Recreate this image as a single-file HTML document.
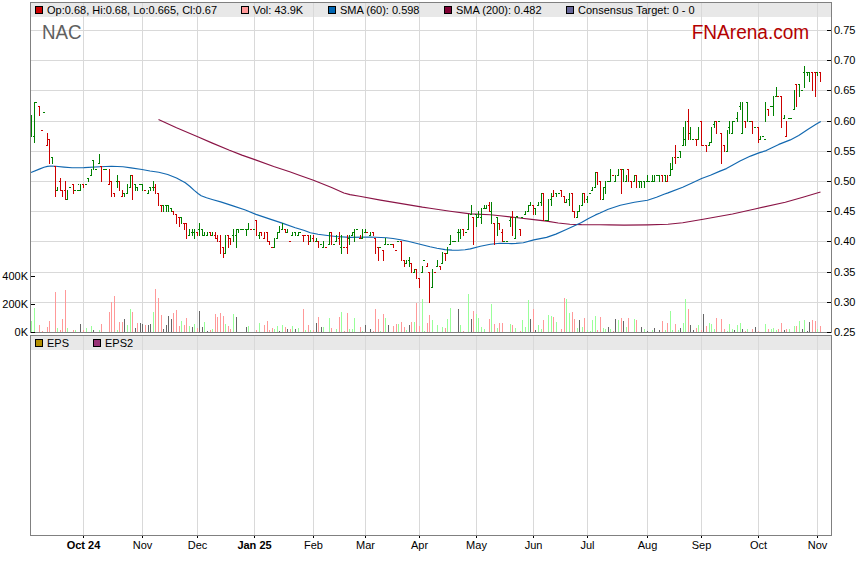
<!DOCTYPE html>
<html lang="en"><head><meta charset="utf-8"><title>NAC chart - FNArena.com</title>
<style>html,body{margin:0;padding:0;background:#fff;overflow:hidden}body{width:859px;height:566px}</style>
</head><body>
<svg width="859" height="566" viewBox="0 0 859 566" style="display:block">
<rect width="859" height="566" fill="#fff"/>
<rect x="31" y="3" width="800" height="14" fill="#e8e8e8"/>
<rect x="31" y="336" width="800" height="14" fill="#e8e8e8"/>
<path d="M83.5 3V332M83.5 336V535M142.5 3V332M142.5 336V535M197.5 3V332M197.5 336V535M254.5 3V332M254.5 336V535M313.5 3V332M313.5 336V535M365.5 3V332M365.5 336V535M419.5 3V332M419.5 336V535M476.5 3V332M476.5 336V535M533.5 3V332M533.5 336V535M587.5 3V332M587.5 336V535M647.5 3V332M647.5 336V535M701.5 3V332M701.5 336V535M758.5 3V332M758.5 336V535M817.5 3V332M817.5 336V535M31 30.5H831M31 60.5H831M31 90.5H831M31 121.5H831M31 151.5H831M31 181.5H831M31 211.5H831M31 241.5H831M31 272.5H831M31 302.5H831" stroke="#d9d9d9" stroke-width="1" fill="none" shape-rendering="crispEdges"/>
<path d="M39 325h1v7h-1zM42 331h1v1h-1zM47 327h1v5h-1zM49 321h1v11h-1zM55 292h1v40h-1zM60 330h1v2h-1zM62 319h1v13h-1zM65 290h1v42h-1zM73 330h1v2h-1zM83 330h1v2h-1zM101 324h1v8h-1zM109 312h1v20h-1zM111 302h1v30h-1zM114 296h1v36h-1zM119 322h1v10h-1zM122 322h1v10h-1zM132 312h1v20h-1zM137 323h1v9h-1zM145 325h1v7h-1zM155 289h1v43h-1zM158 298h1v34h-1zM161 315h1v17h-1zM173 313h1v19h-1zM176 310h1v22h-1zM179 326h1v6h-1zM184 325h1v7h-1zM186 318h1v14h-1zM197 328h1v4h-1zM210 330h1v2h-1zM215 314h1v18h-1zM217 317h1v15h-1zM220 313h1v19h-1zM223 316h1v16h-1zM228 326h1v6h-1zM230 329h1v3h-1zM256 330h1v2h-1zM264 325h1v7h-1zM267 321h1v11h-1zM269 330h1v2h-1zM272 328h1v4h-1zM285 327h1v5h-1zM290 329h1v3h-1zM303 309h1v23h-1zM308 325h1v7h-1zM313 330h1v2h-1zM318 317h1v15h-1zM331 328h1v4h-1zM339 317h1v15h-1zM344 331h1v1h-1zM347 313h1v19h-1zM360 327h1v5h-1zM373 331h1v1h-1zM375 309h1v23h-1zM378 319h1v13h-1zM383 314h1v18h-1zM393 326h1v6h-1zM396 324h1v8h-1zM401 322h1v10h-1zM404 327h1v5h-1zM411 322h1v10h-1zM416 303h1v29h-1zM419 326h1v6h-1zM427 323h1v9h-1zM429 315h1v17h-1zM445 328h1v4h-1zM463 331h1v1h-1zM473 311h1v21h-1zM489 319h1v13h-1zM494 324h1v8h-1zM499 323h1v9h-1zM502 323h1v9h-1zM512 325h1v7h-1zM520 331h1v1h-1zM533 309h1v23h-1zM543 320h1v12h-1zM553 317h1v15h-1zM561 329h1v3h-1zM564 298h1v34h-1zM572 312h1v20h-1zM574 319h1v13h-1zM584 318h1v14h-1zM597 330h1v2h-1zM600 317h1v15h-1zM613 331h1v1h-1zM621 318h1v14h-1zM628 318h1v14h-1zM636 320h1v12h-1zM662 321h1v11h-1zM667 323h1v9h-1zM675 324h1v8h-1zM688 309h1v23h-1zM696 328h1v4h-1zM701 330h1v2h-1zM706 326h1v6h-1zM716 318h1v14h-1zM721 319h1v13h-1zM724 329h1v3h-1zM745 331h1v1h-1zM752 329h1v3h-1zM758 331h1v1h-1zM768 329h1v3h-1zM778 329h1v3h-1zM781 323h1v9h-1zM786 329h1v3h-1zM796 326h1v6h-1zM812 320h1v12h-1zM815 321h1v11h-1zM820 326h1v6h-1z" fill="#ff9999" shape-rendering="crispEdges"/>
<path d="M31 321h1v11h-1zM34 308h1v24h-1zM57 328h1v4h-1zM67 328h1v4h-1zM75 330h1v2h-1zM86 328h1v4h-1zM91 326h1v6h-1zM99 330h1v2h-1zM117 330h1v2h-1zM127 325h1v7h-1zM130 309h1v23h-1zM153 312h1v20h-1zM181 321h1v11h-1zM189 326h1v6h-1zM194 324h1v8h-1zM204 322h1v10h-1zM212 329h1v3h-1zM225 324h1v8h-1zM233 314h1v18h-1zM248 326h1v6h-1zM259 323h1v9h-1zM274 329h1v3h-1zM277 326h1v6h-1zM282 325h1v7h-1zM292 326h1v6h-1zM298 328h1v4h-1zM305 330h1v2h-1zM310 330h1v2h-1zM323 327h1v5h-1zM329 318h1v14h-1zM336 329h1v3h-1zM341 312h1v20h-1zM349 329h1v3h-1zM352 329h1v3h-1zM354 318h1v14h-1zM362 331h1v1h-1zM380 331h1v1h-1zM385 318h1v14h-1zM398 324h1v8h-1zM406 330h1v2h-1zM414 322h1v10h-1zM422 299h1v33h-1zM424 331h1v1h-1zM432 320h1v12h-1zM437 325h1v7h-1zM442 327h1v5h-1zM447 319h1v13h-1zM450 308h1v24h-1zM460 325h1v7h-1zM468 294h1v38h-1zM476 314h1v18h-1zM478 318h1v14h-1zM481 327h1v5h-1zM484 329h1v3h-1zM491 304h1v28h-1zM497 328h1v4h-1zM510 324h1v8h-1zM515 328h1v4h-1zM522 320h1v12h-1zM525 327h1v5h-1zM528 300h1v32h-1zM538 325h1v7h-1zM541 329h1v3h-1zM548 315h1v17h-1zM551 316h1v16h-1zM556 322h1v10h-1zM566 299h1v33h-1zM569 313h1v19h-1zM577 328h1v4h-1zM582 327h1v5h-1zM587 330h1v2h-1zM590 331h1v1h-1zM592 320h1v12h-1zM595 316h1v16h-1zM603 328h1v4h-1zM605 329h1v3h-1zM610 329h1v3h-1zM618 320h1v12h-1zM626 327h1v5h-1zM634 319h1v13h-1zM644 329h1v3h-1zM652 330h1v2h-1zM665 330h1v2h-1zM670 311h1v21h-1zM672 330h1v2h-1zM678 330h1v2h-1zM683 323h1v9h-1zM685 299h1v33h-1zM698 325h1v7h-1zM709 323h1v9h-1zM711 324h1v8h-1zM714 329h1v3h-1zM727 331h1v1h-1zM729 324h1v8h-1zM732 329h1v3h-1zM737 325h1v7h-1zM740 323h1v9h-1zM747 329h1v3h-1zM765 324h1v8h-1zM771 329h1v3h-1zM773 328h1v4h-1zM776 330h1v2h-1zM789 329h1v3h-1zM794 326h1v6h-1zM799 321h1v11h-1zM804 320h1v12h-1zM817 329h1v3h-1z" fill="#99ff99" shape-rendering="crispEdges"/>
<path d="M80 324h1v8h-1zM93 330h1v2h-1zM124 319h1v13h-1zM135 328h1v4h-1zM140 323h1v9h-1zM142 324h1v8h-1zM148 325h1v7h-1zM150 324h1v8h-1zM163 329h1v3h-1zM166 325h1v7h-1zM168 316h1v16h-1zM171 319h1v13h-1zM192 327h1v5h-1zM199 311h1v21h-1zM202 327h1v5h-1zM207 331h1v1h-1zM236 317h1v15h-1zM246 327h1v5h-1zM279 331h1v1h-1zM287 329h1v3h-1zM295 329h1v3h-1zM316 323h1v9h-1zM321 327h1v5h-1zM365 325h1v7h-1zM370 329h1v3h-1zM388 325h1v7h-1zM409 325h1v7h-1zM458 309h1v23h-1zM471 319h1v13h-1zM530 319h1v13h-1zM535 330h1v2h-1zM579 320h1v12h-1zM608 327h1v5h-1zM615 319h1v13h-1zM623 321h1v11h-1zM641 327h1v5h-1zM647 331h1v1h-1zM654 328h1v4h-1zM659 330h1v2h-1zM680 328h1v4h-1zM690 325h1v7h-1zM693 330h1v2h-1zM703 314h1v18h-1zM734 330h1v2h-1zM742 329h1v3h-1zM755 327h1v5h-1zM784 330h1v2h-1zM802 329h1v3h-1zM807 331h1v1h-1zM809 322h1v10h-1z" fill="#666666" shape-rendering="crispEdges"/>
<polyline points="158.5,119.4 176.5,127.7 197.7,136.8 211.8,142.9 229.5,150.3 241.9,155.1 254.8,159.6 273.7,166.5 289.7,171.8 300.0,175.5 313.5,180.2 331.6,187.5 343.9,193.0 350.0,194.6 359.6,196.3 380.5,200.1 401.5,203.6 422.4,207.1 430.0,208.2 450.1,211.2 470.3,213.9 490.4,214.8 500.0,215.7 517.5,217.8 533.8,219.6 546.6,221.1 558.2,223.0 569.8,224.2 581.5,224.6 600.0,224.8 609.3,224.9 624.0,225.1 647.5,224.9 668.0,224.3 682.7,222.8 703.2,219.3 732.5,214.0 756.0,208.7 785.3,202.3 802.9,197.3 820.5,192.0" fill="none" stroke="#8a1446" stroke-width="1.15" stroke-linejoin="round"/>
<polyline points="31.0,172.5 39.3,169.1 44.0,167.3 47.5,166.4 51.0,166.0 55.6,166.2 64.0,167.1 72.0,167.8 84.0,167.6 100.0,166.7 111.5,166.2 123.0,166.7 131.0,167.9 142.0,169.5 150.0,171.0 158.8,172.2 167.7,174.5 176.5,178.0 185.3,182.8 190.0,186.5 194.2,190.4 198.0,193.5 201.2,195.7 206.5,197.8 213.0,199.7 220.7,201.9 233.0,205.9 245.4,210.0 256.0,214.4 270.1,219.1 282.2,223.1 295.3,227.7 303.7,230.3 310.4,232.7 318.0,234.2 325.5,235.2 336.0,236.5 350.0,237.4 370.3,237.0 386.4,237.7 393.0,238.5 400.5,239.7 408.0,241.3 416.0,243.2 430.0,246.8 437.0,248.3 445.1,249.6 452.0,250.1 458.2,250.2 465.0,249.7 470.3,248.9 480.4,246.3 490.4,244.3 500.0,243.2 511.6,243.6 516.0,243.4 523.3,242.8 533.8,239.9 546.6,237.4 555.9,234.1 565.2,230.0 574.5,225.7 581.5,222.5 588.5,218.4 595.5,214.9 600.0,213.0 608.2,209.3 620.3,205.3 634.4,202.3 647.5,200.3 656.5,197.3 664.0,194.2 668.0,192.9 682.7,187.2 692.0,183.0 701.6,178.5 710.4,175.3 720.0,171.1 726.4,168.6 732.8,164.9 740.0,161.1 750.5,156.1 758.9,152.9 766.2,150.6 771.4,148.0 778.8,144.4 790.3,139.9 798.7,135.4 808.1,129.2 816.0,124.3 820.8,121.4" fill="none" stroke="#1268b0" stroke-width="1.15" stroke-linejoin="round"/>
<path d="M31 115h1v22h-1zM34 102h1v41h-1zM33 136h2v1h-2zM36 102h1v1h-1zM35 102h2v1h-2zM44 112h1v1h-1zM43 112h2v1h-2zM52 157h1v7h-1zM51 157h2v1h-2zM57 187h1v4h-1zM56 190h2v1h-2zM67 190h1v10h-1zM66 199h2v1h-2zM70 187h1v1h-1zM69 187h2v1h-2zM75 190h1v1h-1zM74 190h2v1h-2zM78 184h1v1h-1zM77 190h2v1h-2zM80 184h1v7h-1zM79 190h2v1h-2zM86 184h1v1h-1zM85 184h2v1h-2zM88 178h1v4h-1zM87 178h2v1h-2zM91 169h1v7h-1zM90 175h2v1h-2zM93 160h1v10h-1zM92 160h2v1h-2zM96 169h1v1h-1zM95 169h2v1h-2zM99 154h1v10h-1zM98 163h2v1h-2zM104 169h1v1h-1zM103 169h2v1h-2zM106 169h1v1h-1zM105 169h2v1h-2zM117 175h1v13h-1zM116 181h2v1h-2zM124 193h1v4h-1zM123 193h2v1h-2zM127 184h1v10h-1zM126 193h2v1h-2zM130 175h1v13h-1zM129 187h2v1h-2zM135 184h1v7h-1zM134 184h2v1h-2zM137 187h1v4h-1zM136 187h2v1h-2zM140 184h1v1h-1zM139 184h2v1h-2zM142 184h1v7h-1zM141 184h2v1h-2zM148 190h1v4h-1zM147 193h2v1h-2zM150 187h1v4h-1zM149 187h2v1h-2zM153 181h1v10h-1zM152 187h2v1h-2zM163 205h1v7h-1zM162 205h2v1h-2zM166 205h1v7h-1zM165 205h2v1h-2zM168 205h1v7h-1zM167 205h2v1h-2zM171 208h1v4h-1zM170 208h2v1h-2zM181 217h1v7h-1zM180 217h2v1h-2zM189 229h1v7h-1zM188 235h2v1h-2zM192 229h1v7h-1zM191 232h2v1h-2zM194 229h1v10h-1zM193 232h2v1h-2zM199 223h1v13h-1zM198 229h2v1h-2zM202 229h1v7h-1zM201 229h2v1h-2zM204 232h1v4h-1zM203 235h2v1h-2zM207 232h1v4h-1zM206 235h2v1h-2zM212 232h1v4h-1zM211 235h2v1h-2zM225 235h1v19h-1zM224 253h2v1h-2zM233 229h1v13h-1zM232 235h2v1h-2zM236 229h1v19h-1zM235 235h2v1h-2zM238 229h1v4h-1zM237 229h2v1h-2zM241 229h1v1h-1zM240 229h2v1h-2zM243 229h1v1h-1zM242 229h2v1h-2zM246 229h1v7h-1zM245 229h2v1h-2zM248 223h1v7h-1zM247 229h2v1h-2zM254 229h1v1h-1zM253 229h2v1h-2zM259 232h1v7h-1zM258 235h2v1h-2zM274 238h1v10h-1zM273 247h2v1h-2zM277 232h1v7h-1zM276 238h2v1h-2zM279 226h1v7h-1zM278 232h2v1h-2zM282 223h1v7h-1zM281 229h2v1h-2zM287 229h1v4h-1zM286 232h2v1h-2zM292 232h1v4h-1zM291 235h2v1h-2zM295 232h1v4h-1zM294 232h2v1h-2zM298 232h1v4h-1zM297 235h2v1h-2zM300 232h1v1h-1zM299 232h2v1h-2zM310 235h1v7h-1zM309 241h2v1h-2zM316 238h1v4h-1zM315 241h2v1h-2zM321 244h1v1h-1zM320 244h2v1h-2zM323 241h1v7h-1zM322 247h2v1h-2zM329 232h1v13h-1zM328 244h2v1h-2zM334 244h1v1h-1zM333 244h2v1h-2zM336 235h1v7h-1zM335 241h2v1h-2zM341 235h1v19h-1zM340 247h2v1h-2zM349 235h1v10h-1zM348 238h2v1h-2zM352 232h1v4h-1zM351 235h2v1h-2zM354 229h1v13h-1zM353 232h2v1h-2zM357 229h1v1h-1zM356 229h2v1h-2zM362 229h1v10h-1zM361 238h2v1h-2zM365 229h1v4h-1zM364 232h2v1h-2zM370 232h1v4h-1zM369 235h2v1h-2zM380 247h1v1h-1zM379 247h2v1h-2zM385 238h1v7h-1zM384 244h2v1h-2zM388 244h1v1h-1zM387 244h2v1h-2zM391 244h1v1h-1zM390 244h2v1h-2zM398 241h1v1h-1zM397 241h2v1h-2zM406 260h1v4h-1zM405 263h2v1h-2zM409 257h1v10h-1zM408 260h2v1h-2zM414 269h1v4h-1zM413 272h2v1h-2zM422 266h1v7h-1zM421 272h2v1h-2zM424 260h1v1h-1zM423 260h2v1h-2zM432 269h1v19h-1zM431 287h2v1h-2zM437 260h1v7h-1zM436 266h2v1h-2zM442 252h1v12h-1zM441 263h2v1h-2zM447 247h1v7h-1zM446 253h2v1h-2zM450 235h1v10h-1zM449 244h2v1h-2zM453 241h1v1h-1zM452 241h2v1h-2zM455 241h1v1h-1zM454 241h2v1h-2zM458 229h1v13h-1zM457 232h2v1h-2zM460 229h1v10h-1zM459 232h2v1h-2zM466 232h1v1h-1zM465 232h2v1h-2zM468 214h1v16h-1zM467 229h2v1h-2zM471 205h1v10h-1zM470 214h2v1h-2zM476 214h1v13h-1zM475 214h2v1h-2zM478 211h1v7h-1zM477 217h2v1h-2zM481 208h1v16h-1zM480 217h2v1h-2zM484 205h1v4h-1zM483 208h2v1h-2zM486 205h1v4h-1zM485 208h2v1h-2zM491 202h1v22h-1zM490 211h2v1h-2zM497 217h1v19h-1zM496 217h2v1h-2zM504 241h1v1h-1zM503 241h2v1h-2zM507 241h1v1h-1zM506 241h2v1h-2zM510 217h1v10h-1zM509 220h2v1h-2zM515 217h1v22h-1zM514 238h2v1h-2zM517 216h1v2h-1zM516 216h2v1h-2zM522 217h1v1h-1zM521 217h2v1h-2zM525 211h1v4h-1zM524 214h2v1h-2zM528 205h1v7h-1zM527 211h2v1h-2zM530 202h1v4h-1zM529 205h2v1h-2zM535 208h1v7h-1zM534 208h2v1h-2zM538 202h1v4h-1zM537 205h2v1h-2zM541 193h1v13h-1zM540 202h2v1h-2zM546 220h1v1h-1zM545 220h2v1h-2zM548 199h1v22h-1zM547 220h2v1h-2zM551 193h1v13h-1zM550 199h2v1h-2zM556 193h1v4h-1zM555 193h2v1h-2zM559 193h1v1h-1zM558 193h2v1h-2zM566 199h1v4h-1zM565 202h2v1h-2zM569 193h1v13h-1zM568 199h2v1h-2zM577 211h1v7h-1zM576 217h2v1h-2zM579 205h1v7h-1zM578 211h2v1h-2zM582 193h1v13h-1zM581 205h2v1h-2zM587 196h1v7h-1zM586 199h2v1h-2zM590 193h1v1h-1zM589 193h2v1h-2zM592 187h1v4h-1zM591 190h2v1h-2zM595 172h1v16h-1zM594 187h2v1h-2zM603 187h1v13h-1zM602 199h2v1h-2zM605 181h1v13h-1zM604 187h2v1h-2zM608 181h1v1h-1zM607 181h2v1h-2zM610 169h1v13h-1zM609 181h2v1h-2zM615 175h1v7h-1zM614 181h2v1h-2zM618 169h1v7h-1zM617 175h2v1h-2zM623 169h1v13h-1zM622 169h2v1h-2zM626 175h1v7h-1zM625 181h2v1h-2zM634 175h1v7h-1zM633 181h2v1h-2zM639 181h1v7h-1zM638 181h2v1h-2zM641 181h1v7h-1zM640 181h2v1h-2zM644 181h1v7h-1zM643 181h2v1h-2zM647 175h1v7h-1zM646 181h2v1h-2zM649 181h1v1h-1zM648 181h2v1h-2zM652 175h1v7h-1zM651 181h2v1h-2zM654 175h1v7h-1zM653 181h2v1h-2zM657 175h1v1h-1zM656 175h2v1h-2zM659 175h1v7h-1zM658 175h2v1h-2zM665 175h1v7h-1zM664 175h2v1h-2zM670 163h1v13h-1zM669 175h2v1h-2zM672 157h1v13h-1zM671 169h2v1h-2zM678 157h1v1h-1zM677 157h2v1h-2zM680 151h1v7h-1zM679 151h2v1h-2zM683 127h1v19h-1zM682 145h2v1h-2zM685 121h1v25h-1zM684 139h2v1h-2zM690 127h1v13h-1zM689 133h2v1h-2zM693 139h1v1h-1zM692 139h2v1h-2zM698 127h1v13h-1zM697 139h2v1h-2zM709 142h1v4h-1zM708 145h2v1h-2zM711 127h1v16h-1zM710 142h2v1h-2zM714 121h1v7h-1zM713 124h2v1h-2zM719 121h1v1h-1zM718 121h2v1h-2zM727 130h1v22h-1zM726 151h2v1h-2zM729 121h1v13h-1zM728 127h2v1h-2zM732 121h1v13h-1zM731 133h2v1h-2zM734 121h1v1h-1zM733 121h2v1h-2zM737 112h1v10h-1zM736 118h2v1h-2zM740 102h1v8h-1zM739 106h2v1h-2zM742 102h1v32h-1zM741 133h2v1h-2zM747 102h1v20h-1zM746 102h2v1h-2zM750 121h1v1h-1zM749 121h2v1h-2zM755 127h1v1h-1zM754 127h2v1h-2zM760 136h1v4h-1zM759 139h2v1h-2zM763 136h1v1h-1zM762 136h2v1h-2zM765 102h1v20h-1zM764 139h2v1h-2zM771 106h1v1h-1zM770 106h2v1h-2zM773 96h1v20h-1zM772 106h2v1h-2zM776 87h1v10h-1zM775 96h2v1h-2zM784 115h1v4h-1zM783 118h2v1h-2zM789 118h1v1h-1zM788 118h2v1h-2zM791 118h1v1h-1zM790 118h2v1h-2zM794 90h1v20h-1zM793 109h2v1h-2zM799 84h1v13h-1zM798 84h2v1h-2zM802 90h1v1h-1zM801 90h2v1h-2zM804 66h1v22h-1zM803 72h2v1h-2zM807 72h1v4h-1zM806 72h2v1h-2zM809 72h1v10h-1zM808 72h2v1h-2zM817 72h1v4h-1zM816 72h2v1h-2z" fill="#008000" shape-rendering="crispEdges"/>
<path d="M39 106h1v10h-1zM38 106h2v1h-2zM42 130h1v1h-1zM41 130h2v1h-2zM47 133h1v13h-1zM46 145h2v1h-2zM49 139h1v25h-1zM48 139h2v1h-2zM55 166h1v31h-1zM54 166h2v1h-2zM60 178h1v13h-1zM59 181h2v1h-2zM62 190h1v7h-1zM61 190h2v1h-2zM65 181h1v19h-1zM64 190h2v1h-2zM73 184h1v10h-1zM72 184h2v1h-2zM83 184h1v4h-1zM82 184h2v1h-2zM101 166h1v16h-1zM100 166h2v1h-2zM109 169h1v16h-1zM108 184h2v1h-2zM111 181h1v16h-1zM110 181h2v1h-2zM114 193h1v4h-1zM113 193h2v1h-2zM119 181h1v10h-1zM118 181h2v1h-2zM122 190h1v7h-1zM121 196h2v1h-2zM132 175h1v25h-1zM131 175h2v1h-2zM145 190h1v1h-1zM144 190h2v1h-2zM155 184h1v10h-1zM154 187h2v1h-2zM158 193h1v13h-1zM157 193h2v1h-2zM161 205h1v7h-1zM160 205h2v1h-2zM173 211h1v4h-1zM172 211h2v1h-2zM176 214h1v10h-1zM175 214h2v1h-2zM179 217h1v10h-1zM178 217h2v1h-2zM184 223h1v7h-1zM183 223h2v1h-2zM186 223h1v16h-1zM185 223h2v1h-2zM197 232h1v4h-1zM196 232h2v1h-2zM210 232h1v4h-1zM209 232h2v1h-2zM215 232h1v7h-1zM214 235h2v1h-2zM217 235h1v7h-1zM216 238h2v1h-2zM220 235h1v19h-1zM219 241h2v1h-2zM223 247h1v11h-1zM222 247h2v1h-2zM228 235h1v13h-1zM227 235h2v1h-2zM230 238h1v7h-1zM229 238h2v1h-2zM251 229h1v1h-1zM250 229h2v1h-2zM256 220h1v16h-1zM255 220h2v1h-2zM261 232h1v4h-1zM260 232h2v1h-2zM264 232h1v7h-1zM263 238h2v1h-2zM267 232h1v10h-1zM266 232h2v1h-2zM269 241h1v4h-1zM268 241h2v1h-2zM272 247h1v1h-1zM271 247h2v1h-2zM285 229h1v4h-1zM284 229h2v1h-2zM290 241h1v1h-1zM289 241h2v1h-2zM303 235h1v7h-1zM302 235h2v1h-2zM305 235h1v1h-1zM304 235h2v1h-2zM308 235h1v10h-1zM307 235h2v1h-2zM313 235h1v7h-1zM312 238h2v1h-2zM318 241h1v7h-1zM317 241h2v1h-2zM326 247h1v1h-1zM325 247h2v1h-2zM331 232h1v13h-1zM330 232h2v1h-2zM339 232h1v13h-1zM338 238h2v1h-2zM344 247h1v1h-1zM343 247h2v1h-2zM347 235h1v19h-1zM346 247h2v1h-2zM360 235h1v4h-1zM359 238h2v1h-2zM367 232h1v1h-1zM366 232h2v1h-2zM373 232h1v4h-1zM372 232h2v1h-2zM375 238h1v16h-1zM374 238h2v1h-2zM378 247h1v14h-1zM377 247h2v1h-2zM383 250h1v11h-1zM382 250h2v1h-2zM393 244h1v4h-1zM392 244h2v1h-2zM396 250h1v1h-1zM395 250h2v1h-2zM401 241h1v20h-1zM400 241h2v1h-2zM404 260h1v7h-1zM403 260h2v1h-2zM411 263h1v10h-1zM410 263h2v1h-2zM416 269h1v10h-1zM415 269h2v1h-2zM419 278h1v10h-1zM418 278h2v1h-2zM427 263h1v4h-1zM426 266h2v1h-2zM429 272h1v31h-1zM428 272h2v1h-2zM435 272h1v1h-1zM434 272h2v1h-2zM440 266h1v4h-1zM439 266h2v1h-2zM445 253h1v8h-1zM444 253h2v1h-2zM463 229h1v7h-1zM462 229h2v1h-2zM473 217h1v28h-1zM472 217h2v1h-2zM489 202h1v10h-1zM488 205h2v1h-2zM494 223h1v22h-1zM493 223h2v1h-2zM499 223h1v7h-1zM498 223h2v1h-2zM502 229h1v13h-1zM501 232h2v1h-2zM512 211h1v25h-1zM511 217h2v1h-2zM520 229h1v7h-1zM519 229h2v1h-2zM533 205h1v10h-1zM532 205h2v1h-2zM543 193h1v28h-1zM542 193h2v1h-2zM553 190h1v7h-1zM552 196h2v1h-2zM561 190h1v7h-1zM560 190h2v1h-2zM564 196h1v7h-1zM563 196h2v1h-2zM572 193h1v19h-1zM571 193h2v1h-2zM574 211h1v7h-1zM573 211h2v1h-2zM584 193h1v10h-1zM583 193h2v1h-2zM597 172h1v13h-1zM596 172h2v1h-2zM600 181h1v19h-1zM599 181h2v1h-2zM613 175h1v1h-1zM612 175h2v1h-2zM621 169h1v25h-1zM620 169h2v1h-2zM628 169h1v13h-1zM627 169h2v1h-2zM631 181h1v7h-1zM630 181h2v1h-2zM636 175h1v13h-1zM635 175h2v1h-2zM662 175h1v7h-1zM661 175h2v1h-2zM667 175h1v7h-1zM666 181h2v1h-2zM675 145h1v19h-1zM674 157h2v1h-2zM688 109h1v31h-1zM687 121h2v1h-2zM696 139h1v7h-1zM695 139h2v1h-2zM701 121h1v25h-1zM700 121h2v1h-2zM703 145h1v1h-1zM702 145h2v1h-2zM706 145h1v7h-1zM705 145h2v1h-2zM716 121h1v13h-1zM715 121h2v1h-2zM721 133h1v31h-1zM720 133h2v1h-2zM724 145h1v7h-1zM723 145h2v1h-2zM745 121h1v7h-1zM744 121h2v1h-2zM752 121h1v13h-1zM751 121h2v1h-2zM758 127h1v16h-1zM757 127h2v1h-2zM768 109h1v7h-1zM767 109h2v1h-2zM778 96h1v1h-1zM777 96h2v1h-2zM781 96h1v32h-1zM780 96h2v1h-2zM786 121h1v16h-1zM785 136h2v1h-2zM796 84h1v23h-1zM795 84h2v1h-2zM812 72h1v19h-1zM811 72h2v1h-2zM815 72h1v25h-1zM814 72h2v1h-2zM820 72h1v10h-1zM819 72h2v1h-2z" fill="#cc0000" shape-rendering="crispEdges"/>
<g fill="none" stroke="#808080" stroke-width="1" shape-rendering="crispEdges">
<rect x="30.5" y="2.5" width="801" height="330"/>
<rect x="30.5" y="335.5" width="801" height="200"/>
</g>
<path d="M827 30.5H831M827 60.5H831M827 90.5H831M827 121.5H831M827 151.5H831M827 181.5H831M827 211.5H831M827 241.5H831M827 272.5H831M827 302.5H831M827 332.5H831M31 276.5H35M31 304.5H35M31 332.5H35M83.5 536V538M142.5 536V538M197.5 536V538M254.5 536V538M313.5 536V538M365.5 536V538M419.5 536V538M476.5 536V538M533.5 536V538M587.5 536V538M647.5 536V538M701.5 536V538M758.5 536V538M817.5 536V538" stroke="#000" stroke-width="1" fill="none" shape-rendering="crispEdges"/>
<g font-family="'Liberation Sans', Arial, sans-serif" font-size="11px" fill="#000">
<text x="834" y="34">0.75</text>
<text x="834" y="64">0.70</text>
<text x="834" y="94">0.65</text>
<text x="834" y="125">0.60</text>
<text x="834" y="155">0.55</text>
<text x="834" y="185">0.50</text>
<text x="834" y="215">0.45</text>
<text x="834" y="245">0.40</text>
<text x="834" y="276">0.35</text>
<text x="834" y="306">0.30</text>
<text x="834" y="336">0.25</text>
<text x="28" y="280" text-anchor="end">400K</text>
<text x="28" y="308" text-anchor="end">200K</text>
<text x="28" y="336" text-anchor="end">0K</text>
<text x="83.5" y="549" text-anchor="middle" font-weight="bold">Oct 24</text>
<text x="142.5" y="549" text-anchor="middle">Nov</text>
<text x="197.5" y="549" text-anchor="middle">Dec</text>
<text x="254.5" y="549" text-anchor="middle" font-weight="bold">Jan 25</text>
<text x="313.5" y="549" text-anchor="middle">Feb</text>
<text x="365.5" y="549" text-anchor="middle">Mar</text>
<text x="419.5" y="549" text-anchor="middle">Apr</text>
<text x="476.5" y="549" text-anchor="middle">May</text>
<text x="533.5" y="549" text-anchor="middle">Jun</text>
<text x="587.5" y="549" text-anchor="middle">Jul</text>
<text x="647.5" y="549" text-anchor="middle">Aug</text>
<text x="701.5" y="549" text-anchor="middle">Sep</text>
<text x="758.5" y="549" text-anchor="middle">Oct</text>
<text x="817.5" y="549" text-anchor="middle">Nov</text>
<rect x="35.5" y="6.5" width="7" height="7" fill="#cc0000" stroke="#000" stroke-width="1" shape-rendering="crispEdges"/>
<text x="47" y="14.4">Op:0.68, Hi:0.68, Lo:0.665, Cl:0.67</text>
<rect x="241.5" y="6.5" width="7" height="7" fill="#ff9999" stroke="#000" stroke-width="1" shape-rendering="crispEdges"/>
<text x="253" y="14.4">Vol: 43.9K</text>
<rect x="328.5" y="6.5" width="7" height="7" fill="#0066b3" stroke="#000" stroke-width="1" shape-rendering="crispEdges"/>
<text x="340" y="14.4">SMA (60): 0.598</text>
<rect x="444.5" y="6.5" width="7" height="7" fill="#800033" stroke="#000" stroke-width="1" shape-rendering="crispEdges"/>
<text x="456" y="14.4">SMA (200): 0.482</text>
<rect x="566.5" y="6.5" width="7" height="7" fill="#666699" stroke="#000" stroke-width="1" shape-rendering="crispEdges"/>
<text x="578" y="14.4">Consensus Target: 0 - 0</text>
<rect x="35.5" y="339.5" width="7" height="7" fill="#b38f00" stroke="#000" stroke-width="1" shape-rendering="crispEdges"/>
<text x="47" y="347.4">EPS</text>
<rect x="93.5" y="339.5" width="7" height="7" fill="#993377" stroke="#000" stroke-width="1" shape-rendering="crispEdges"/>
<text x="105" y="347.4">EPS2</text>
</g>
<text x="42" y="39" textLength="39.6" lengthAdjust="spacingAndGlyphs" font-family="'Liberation Sans', Arial, sans-serif" font-size="20px" fill="#606060">NAC</text>
<text x="691.7" y="38.7" textLength="117.5" lengthAdjust="spacingAndGlyphs" font-family="'Liberation Sans', Arial, sans-serif" font-size="20px" fill="#b30000">FNArena.com</text>
</svg>
</body></html>
